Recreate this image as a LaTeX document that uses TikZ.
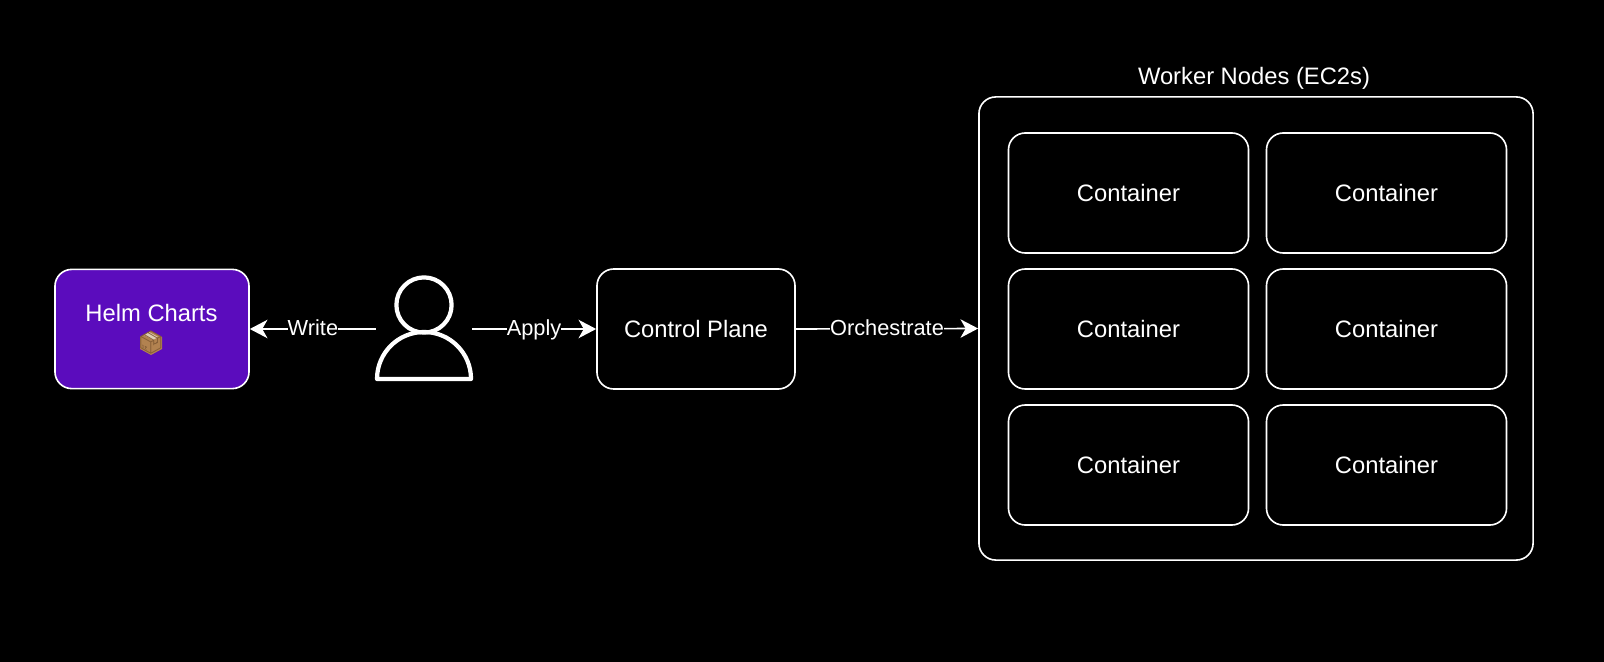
\documentclass[tikz,border=0pt]{standalone}
\usepackage{fontspec}
\setmainfont{Liberation Sans}
\newfontfamily\emojifont{Noto Emoji}
\usetikzlibrary{arrows.meta, positioning}
\definecolor{helmpurple}{RGB}{91,12,189}
\definecolor{boxbrown}{RGB}{178,130,80}
\definecolor{boxdark}{RGB}{132,92,54}
\definecolor{boxtape}{RGB}{222,205,180}
\tikzset{
    box/.style={draw=white, line width=1.15pt, rounded corners=0.42cm, align=center, text=white,
        font=\fontsize{16.9}{20}\selectfont, inner sep=0pt},
    container/.style={box, minimum width=6cm, minimum height=3cm},
    flow/.style={draw=white, line width=1.15pt, -{Stealth[length=0.44cm,width=0.46cm,inset=0.13cm]}},
    flowlabel/.style={fill=black, text=white, inner sep=0pt, text height=0.42cm, text depth=0.08cm,
        font=\fontsize{15.5}{18}\selectfont},
    person/.style={white, line width=3pt, line join=round}
}

\begin{document}
\begin{tikzpicture}[x=0.025cm,y=-0.025cm]
    \useasboundingbox (0,0) rectangle (1604,662);
    \fill[black] (0,0) rectangle (1604,662);

    % left side
    \node[box, fill=helmpurple, minimum width=4.85cm, minimum height=2.98cm] (helm) at (152,329) {};
    \node[text=white, font=\fontsize{16.9}{20}\selectfont, inner sep=0pt] (helmtext) at (151.5,313) {Helm Charts};
    \fill[boxbrown] (140,337) -- (151,331) -- (162,337) -- (162,349) -- (151,355) -- (140,349) -- cycle;
    \fill[boxtape] (144,335) -- (149,332) -- (158,337) -- (153,340) -- cycle;
    \node[text=boxdark, font=\emojifont\fontsize{16}{18}\selectfont, inner sep=0pt] (helmpkg) at (151,343) {📦};

    % user
    \node[minimum width=2.4cm, minimum height=2.5cm, inner sep=0pt, outer sep=0pt] (user) at (424,329) {};
    \draw[person] (424,305) circle (0.69cm);
    \draw[person] (377,379) arc[start angle=180, end angle=0, radius=1.175cm] -- cycle;

    % control plane and workers
    \node[box, minimum width=4.95cm, minimum height=3cm] (control) at (696,329) {Control Plane};
    \node[box, minimum width=13.85cm, minimum height=11.575cm] (workers) at (1256,328.5) {};
    \node[text=white, font=\fontsize{16.9}{20}\selectfont, inner sep=0pt] (workerstitle) at (1254,78) {Worker Nodes (EC2s)};

    \foreach \row/\y in {1/193, 2/329, 3/465}
        \foreach \col/\x in {1/1128.5, 2/1386.5}
            \node[container] (c\row\col) at (\x,\y) {Container};

    % connectors
    \draw[flow] (user.west) -- node[flowlabel] (writelabel) {Write} (helm.east);
    \draw[flow] (user.east) -- node[flowlabel] (applylabel) {Apply} (control.west);
    \draw[flow] (control.east) -- node[flowlabel] (orchlabel) {Orchestrate} (workers.west);
\end{tikzpicture}
\end{document}
